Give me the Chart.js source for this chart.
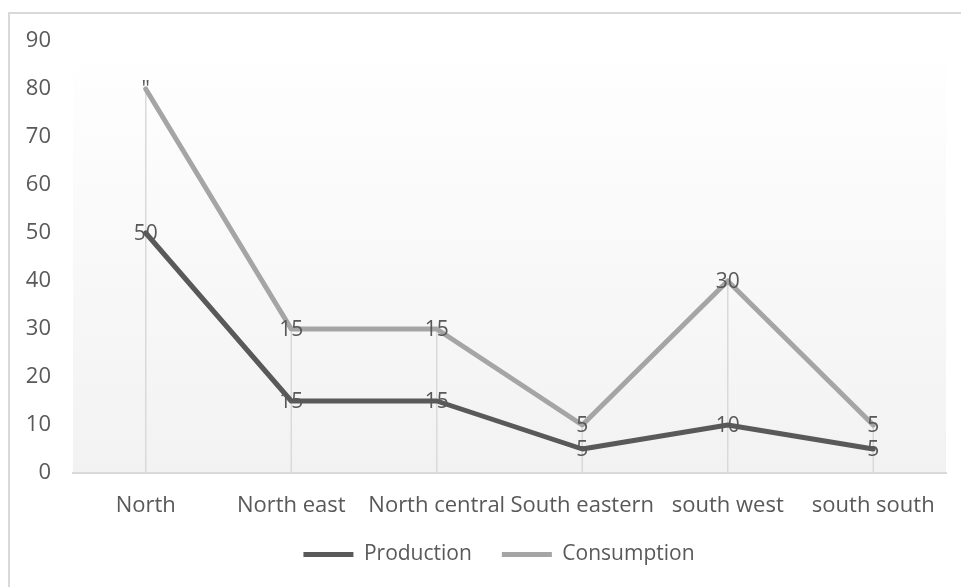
<!DOCTYPE html>
<html>
<head>
<meta charset="utf-8">
<script src="https://cdn.jsdelivr.net/npm/chart.js@4"></script>
<style>
  html, body { margin: 0; padding: 0; background: #fff; }
  #wrap { width: 961px; height: 587px; position: relative; }
</style>
</head>
<body>
<div id="wrap"><canvas id="grafico" width="961" height="587"></canvas></div>
<script>
const regiones = ['North', 'North east', 'North central', 'South eastern', 'south west', 'south south'];
const produccion = [50, 15, 15, 5, 10, 5];
const consumo = [30, 15, 15, 5, 30, 5];
const etiquetasConsumo = ['"', '15', '15', '5', '30', '5'];
const ticksY = [0, 10, 20, 30, 40, 50, 60, 70, 80, 90];

const fuente = '"Open Sans", sans-serif';
const gris = '#595959';

// fondo con degradado, borde exterior y lineas verticales
const fondo = {
  id: 'fondo',
  afterLayout(chart) {
    // la leyenda del original esta un poco a la derecha
    chart.legend.left += 26;
    chart.legend.right += 26;
  },
  beforeDraw(chart) {
    const { ctx, chartArea: a } = chart;
    ctx.save();
    ctx.strokeStyle = '#d9d9d9';
    ctx.lineWidth = 2;
    ctx.beginPath();
    ctx.moveTo(9, chart.height + 5);
    ctx.lineTo(9, 13);
    ctx.lineTo(chart.width + 5, 13);
    ctx.stroke();
    const g = ctx.createLinearGradient(0, a.top, 0, a.bottom);
    g.addColorStop(0, '#ffffff');
    g.addColorStop(1, '#f2f2f2');
    ctx.fillStyle = g;
    ctx.fillRect(a.left, a.top, a.right - a.left, a.bottom - a.top);
    ctx.restore();
  },
  beforeDatasetsDraw(chart) {
    const { ctx, chartArea: a } = chart;
    const arriba = chart.getDatasetMeta(1).data;
    ctx.save();
    ctx.strokeStyle = '#d9d9d9';
    ctx.lineWidth = 1.5;
    arriba.forEach(p => {
      ctx.beginPath();
      ctx.moveTo(p.x, p.y);
      ctx.lineTo(p.x, a.bottom);
      ctx.stroke();
    });
    ctx.restore();
  }
};

const etiquetas = {
  id: 'etiquetas',
  afterDatasetsDraw(chart) {
    const { ctx } = chart;
    ctx.save();
    ctx.font = '21px ' + fuente;
    ctx.fillStyle = gris;
    ctx.textAlign = 'center';
    ctx.textBaseline = 'middle';
    chart.getDatasetMeta(0).data.forEach((p, i) => {
      ctx.fillText(String(produccion[i]), p.x, p.y + 1);
    });
    chart.getDatasetMeta(1).data.forEach((p, i) => {
      ctx.fillText(etiquetasConsumo[i], p.x, p.y + 1);
    });
    ctx.restore();
  }
};

let grafico;

function crearGrafico() {
  const ctx = document.getElementById('grafico').getContext('2d');
  grafico = new Chart(ctx, {
    type: 'line',
    data: {
      labels: regiones,
      datasets: [{
        label: 'Production',
        data: produccion,
        borderColor: gris,
        backgroundColor: gris,
        borderWidth: 5,
        borderCapStyle: 'round',
        borderJoinStyle: 'round',
        pointRadius: 0,
        fill: false,
        tension: 0
      }, {
        label: 'Consumption',
        data: consumo,
        borderColor: '#a5a5a5',
        backgroundColor: '#a5a5a5',
        borderWidth: 5,
        borderCapStyle: 'round',
        borderJoinStyle: 'round',
        pointRadius: 0,
        fill: false,
        tension: 0
      }]
    },
    options: {
      responsive: false,
      animation: false,
      layout: { padding: { top: 41, right: 15, bottom: 12, left: 0 } },
      scales: {
        x: {
          offset: true,
          grid: { display: false },
          border: { color: '#d9d9d9', width: 2 },
          ticks: { color: gris, font: { family: fuente, size: 22 }, padding: 12, maxRotation: 0, autoSkip: false },
          afterFit(s) { s.height = 41; }
        },
        y: {
          stacked: true,
          min: 0,
          max: 90,
          grid: { display: false, drawTicks: false },
          border: { display: false },
          afterBuildTicks(s) { s.ticks = ticksY.map(v => ({ value: v })); },
          ticks: { color: gris, font: { family: fuente, size: 22 }, padding: 22 },
          afterFit(s) { s.width = 73; }
        }
      },
      plugins: {
        legend: {
          position: 'bottom',
          labels: {
            color: gris,
            font: { family: fuente, size: 21 },
            usePointStyle: true,
            pointStyle: 'line',
            pointStyleWidth: 50,
            boxWidth: 50,
            boxHeight: 5,
            padding: 30
          }
        },
        tooltip: { enabled: false }
      }
    },
    plugins: [fondo, etiquetas]
  });
}

document.addEventListener('DOMContentLoaded', () => {
  crearGrafico();
});
</script>
</body>
</html>
